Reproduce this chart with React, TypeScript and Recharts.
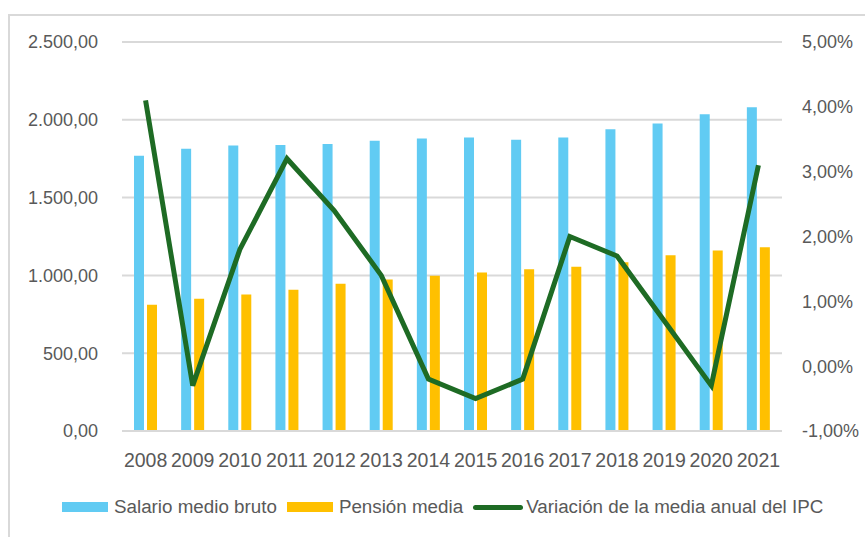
import { ComposedChart, Bar, Line, XAxis, YAxis, CartesianGrid, Legend } from 'recharts';

const years = ['2008', '2009', '2010', '2011', '2012', '2013', '2014', '2015', '2016', '2017', '2018', '2019', '2020', '2021'];
const salario = [1769, 1814, 1835, 1838, 1844, 1865, 1880, 1887, 1872, 1887, 1940, 1976, 2036, 2081];
const pension = [812, 850, 878, 908, 947, 974, 998, 1019, 1040, 1056, 1085, 1130, 1160, 1181];
const ipc = [4.1, -0.3, 1.8, 3.2, 2.4, 1.4, -0.2, -0.5, -0.2, 2.0, 1.7, 0.7, -0.3, 3.1];

const leftTicks = [0, 500, 1000, 1500, 2000, 2500];
const rightTicks = [-1, 0, 1, 2, 3, 4, 5];

const data = years.map((year, i) => ({
  year,
  salario: salario[i],
  pension: pension[i],
  ipc: ipc[i],
}));

const FONT = '"Liberation Sans", Arial, sans-serif';
const TEXT = '#595959';
const BLUE = '#61cbf3';
const ORANGE = '#ffc000';
const GREEN = '#1e6b24';

const fmtNum = (v: number) =>
  v.toLocaleString('es-ES', { minimumFractionDigits: 2, maximumFractionDigits: 2, useGrouping: 'always' } as any);
const fmtPct = (v: number) => `${v.toFixed(2).replace('.', ',')}%`;

const legendItems = [
  { label: 'Salario medio bruto', color: BLUE, type: 'rect' },
  { label: 'Pensión media', color: ORANGE, type: 'rect' },
  { label: 'Variación de la media anual del IPC', color: GREEN, type: 'line' },
];

const LegendContent = () => (
  <div style={{ display: 'flex', alignItems: 'center', height: 30, fontFamily: FONT, fontSize: 18.8, color: TEXT }}>
    {legendItems.map((it) => (
      <div key={it.label} style={{ display: 'flex', alignItems: 'center', marginRight: 10 }}>
        {it.type === 'rect' ? (
          <div style={{ width: 46, height: 10, background: it.color, marginRight: 6 }} />
        ) : (
          <div style={{ width: 50, height: 5, borderRadius: 3, background: it.color, marginRight: 3 }} />
        )}
        <span>{it.label}</span>
      </div>
    ))}
  </div>
);

export default function App() {
  return (
    <div style={{ position: 'absolute', left: 0, top: 0, width: 865, height: 537, overflow: 'hidden', background: '#fff' }}>
      <div
        style={{
          position: 'absolute',
          left: 8,
          top: 14,
          width: 900,
          height: 600,
          border: '2px solid #d9d9d9',
        }}
      />
      <div style={{ position: 'absolute', left: 0, top: 0 }}>
        <ComposedChart
          width={865}
          height={537}
          data={data}
          margin={{ top: 42, right: 0, left: 0, bottom: 36 }}
          barSize={10}
          barGap={3}
        >
          <CartesianGrid yAxisId='left' vertical={false} stroke='#d9d9d9' strokeWidth={2} />
          <XAxis
            dataKey='year'
            tickLine={false}
            axisLine={{ stroke: '#d9d9d9', strokeWidth: 2 }}
            height={40}
            tickMargin={16}
            interval={0}
            tick={{ fill: TEXT, fontSize: 19.5, fontFamily: FONT }}
          />
          <YAxis
            yAxisId='left'
            width={122}
            domain={[0, 2500]}
            ticks={leftTicks}
            tickFormatter={fmtNum}
            tickLine={false}
            axisLine={false}
            tickMargin={18}
            tick={{ fill: TEXT, fontSize: 18, fontFamily: FONT }}
          />
          <YAxis
            yAxisId='right'
            orientation='right'
            width={83}
            domain={[-1, 5]}
            ticks={rightTicks}
            tickFormatter={fmtPct}
            tickLine={false}
            axisLine={false}
            tickMargin={14}
            tick={{ fill: TEXT, fontSize: 18, fontFamily: FONT }}
          />
          <Legend
            verticalAlign='bottom'
            content={LegendContent}
            wrapperStyle={{ top: 492, left: 62, width: 800 }}
          />
          <Bar yAxisId='left' dataKey='salario' fill={BLUE} isAnimationActive={false} />
          <Bar yAxisId='left' dataKey='pension' fill={ORANGE} isAnimationActive={false} />
          <Line
            yAxisId='right'
            dataKey='ipc'
            type='linear'
            stroke={GREEN}
            strokeWidth={5}
            dot={false}
            isAnimationActive={false}
          />
        </ComposedChart>
      </div>
    </div>
  );
}
